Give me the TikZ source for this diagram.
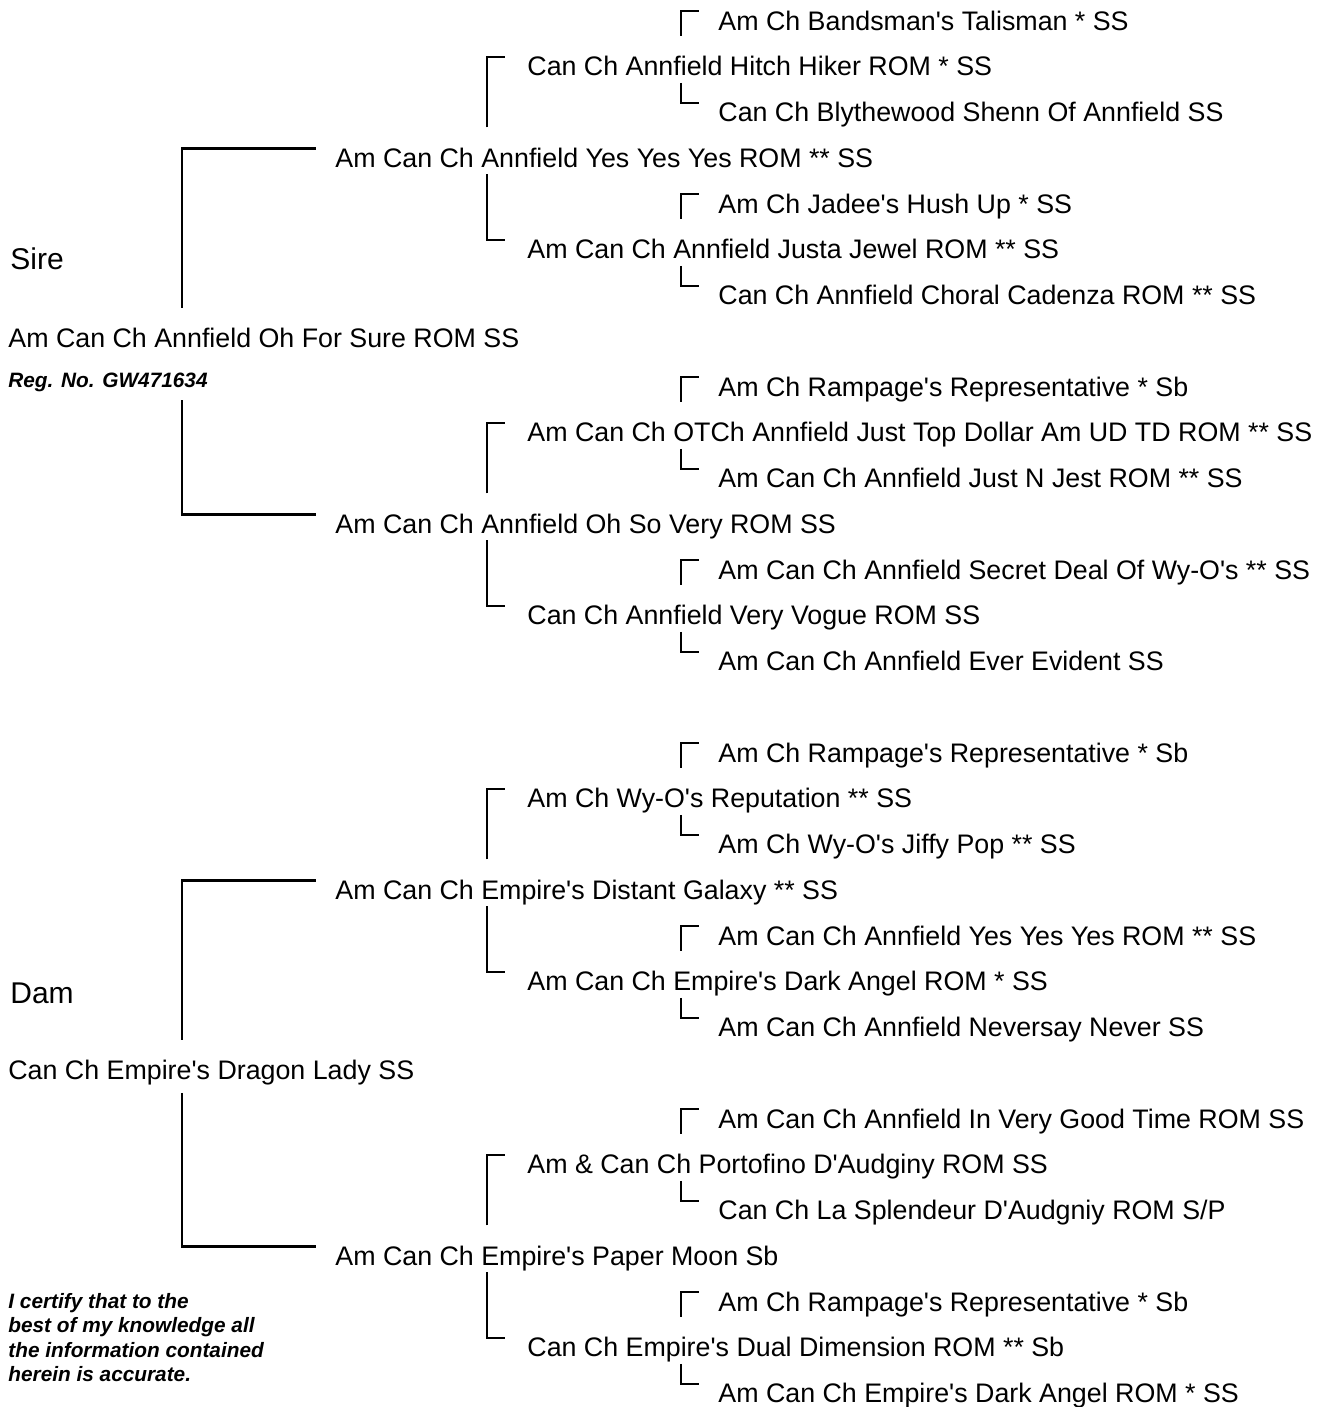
\documentclass[tikz,border=0pt]{standalone}
\usepackage{fontspec}
\newfontfamily\arial{Liberation Sans}
\usetikzlibrary{calc}

\begin{document}
\begin{tikzpicture}[x=0.5pt, y=-22.875pt,
    every node/.style={anchor=base west, inner sep=0pt, font=\arial\fontsize{13.4}{16}\selectfont},
    big/.style={font=\arial\fontsize{15}{18}\selectfont},
    note/.style={font=\arial\fontsize{10.4}{12.25}\selectfont\bfseries\itshape},
    tie/.style={line width=1pt},
    maintie/.style={line width=1.3pt}]
    \useasboundingbox (0,-0.656) rectangle (1323,30.098);

    % sire side
    \node (ssss) at (718,0) {Am Ch Bandsman's Talisman * SS};
    \node (sss) at (527,1) {Can Ch Annfield Hitch Hiker ROM * SS};
    \node (sssd) at (718,2) {Can Ch Blythewood Shenn Of Annfield SS};
    \node (ss) at (335,3) {Am Can Ch Annfield Yes Yes Yes ROM ** SS};
    \node (ssds) at (718,4) {Am Ch Jadee's Hush Up * SS};
    \node (ssd) at (527,5) {Am Can Ch Annfield Justa Jewel ROM ** SS};
    \node (ssdd) at (718,6) {Can Ch Annfield Choral Cadenza ROM ** SS};
    \node[big] (sirelbl) at (10,5.224) {Sire};
    \node (s) at (8,6.95) {Am Can Ch Annfield Oh For Sure ROM SS};
    \node[note] (reg) at (8,7.803) {Reg. No. GW471634};
    \node (sdss) at (718,8) {Am Ch Rampage's Representative * Sb};
    \node (sds) at (527,9) {Am Can Ch OTCh Annfield Just Top Dollar Am UD TD ROM ** SS};
    \node (sdsd) at (718,10) {Am Can Ch Annfield Just N Jest ROM ** SS};
    \node (sd) at (335,11) {Am Can Ch Annfield Oh So Very ROM SS};
    \node (sdds) at (718,12) {Am Can Ch Annfield Secret Deal Of Wy-O's ** SS};
    \node (sdd) at (527,13) {Can Ch Annfield Very Vogue ROM SS};
    \node (sddd) at (718,14) {Am Can Ch Annfield Ever Evident SS};

    % dam side
    \node (dsss) at (718,16) {Am Ch Rampage's Representative * Sb};
    \node (dss) at (527,17) {Am Ch Wy-O's Reputation ** SS};
    \node (dssd) at (718,18) {Am Ch Wy-O's Jiffy Pop ** SS};
    \node (ds) at (335,19) {Am Can Ch Empire's Distant Galaxy ** SS};
    \node (dsds) at (718,20) {Am Can Ch Annfield Yes Yes Yes ROM ** SS};
    \node (dsd) at (527,21) {Am Can Ch Empire's Dark Angel ROM * SS};
    \node (dsdd) at (718,22) {Am Can Ch Annfield Neversay Never SS};
    \node[big] (damlbl) at (10,21.268) {Dam};
    \node (d) at (8,22.95) {Can Ch Empire's Dragon Lady SS};
    \node (ddss) at (718,24) {Am Can Ch Annfield In Very Good Time ROM SS};
    \node (dds) at (527,25) {Am \& Can Ch Portofino D'Audginy ROM SS};
    \node (ddsd) at (718,26) {Can Ch La Splendeur D'Audgniy ROM S/P};
    \node (dd) at (335,27) {Am Can Ch Empire's Paper Moon Sb};
    \node (ddds) at (718,28) {Am Ch Rampage's Representative * Sb};
    \node (ddd) at (527,29) {Can Ch Empire's Dual Dimension ROM ** Sb};
    \node (dddd) at (718,30) {Am Can Ch Empire's Dark Angel ROM * SS};

    \node[note, anchor=north west, align=left] (cert) at (8,27.6)
        {I certify that to the\\best of my knowledge all\\the information contained\\herein is accurate.};

    % brackets
    \draw[maintie] ([xshift=87pt,yshift=20pt]s.base west) |- ([xshift=-9.5pt,yshift=9.5pt]ss.base west);
    \draw[maintie] ([xshift=87pt,yshift=-6.5pt]reg.base west) |- ([xshift=-9.5pt,yshift=9.5pt]sd.base west);
    \draw[maintie] ([xshift=87pt,yshift=20pt]d.base west) |- ([xshift=-9.5pt,yshift=9.5pt]ds.base west);
    \draw[maintie] ([xshift=87pt,yshift=-6.5pt]d.base west) |- ([xshift=-9.5pt,yshift=9.5pt]dd.base west);
    \foreach \p/\u/\l in {ss/sss/ssd, sd/sds/sdd, ds/dss/dsd, dd/dds/ddd} {
        \draw[tie] ([xshift=76pt,yshift=20pt]\p.base west) |- ([xshift=-11pt,yshift=9.5pt]\u.base west);
        \draw[tie] ([xshift=76pt,yshift=-3.5pt]\p.base west) |- ([xshift=-11pt,yshift=9.5pt]\l.base west);
    }
    \foreach \p/\u/\l in {sss/ssss/sssd, ssd/ssds/ssdd, sds/sdss/sdsd, sdd/sdds/sddd,
                          dss/dsss/dssd, dsd/dsds/dsdd, dds/ddss/ddsd, ddd/ddds/dddd} {
        \draw[tie] ([xshift=77pt,yshift=20pt]\p.base west) |- ([xshift=-9.5pt,yshift=9.5pt]\u.base west);
        \draw[tie] ([xshift=77pt,yshift=-3.5pt]\p.base west) |- ([xshift=-9.5pt,yshift=9.5pt]\l.base west);
    }
\end{tikzpicture}
\end{document}
